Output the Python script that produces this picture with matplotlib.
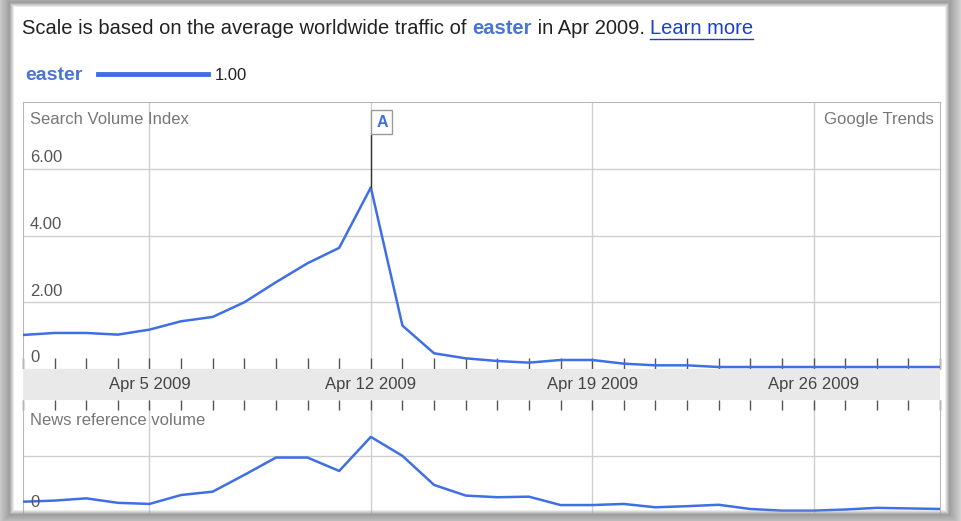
import numpy as np
import matplotlib.pyplot as plt

plt.rcParams['font.family'] = ['Liberation Sans', 'DejaVu Sans']

# days of April 2009
days = list(range(1, 31))
search_volume = [1.02, 1.08, 1.08, 1.03, 1.18, 1.43, 1.56, 2.00, 2.60, 3.17,
                 3.63, 5.44, 1.30, 0.47, 0.32, 0.24, 0.19, 0.27, 0.27, 0.16,
                 0.11, 0.11, 0.06, 0.06, 0.06, 0.06, 0.06, 0.06, 0.06, 0.06]
news_volume = [0.18, 0.20, 0.24, 0.16, 0.14, 0.30, 0.36, 0.66, 0.97, 0.97,
               0.73, 1.34, 1.00, 0.48, 0.29, 0.26, 0.27, 0.12, 0.12, 0.14,
               0.08, 0.10, 0.125, 0.05, 0.02, 0.02, 0.04, 0.07, 0.06, 0.05]
week_days = [5, 12, 19, 26]
week_labels = ["Apr 5 2009", "Apr 12 2009", "Apr 19 2009", "Apr 26 2009"]
y_ticks = [2, 4, 6]
y_labels = ["2.00", "4.00", "6.00"]
peak_day = 12

W, H = 962, 521
blue = '#3f6fe6'
grid = '#cfcfcf'
border = '#b8b8b8'

fig = plt.figure(figsize=(W / 100, H / 100), dpi=100)
fig.patch.set_facecolor('white')
renderer = fig.canvas.get_renderer()


def fx(px):
    return px / W


def fy(py):
    return 1 - py / H


left, right = 23, 940
lab_x = (30 - left) / (right - left)

# main search volume panel
ax = fig.add_axes([fx(left), fy(369), fx(right - left), fy(102) - fy(369)])
ax.plot(days, search_volume, color=blue, lw=1.8, zorder=3)
ax.set_xlim(1, 30)
ax.set_ylim(0, 8)
for d in week_days:
    ax.axvline(d, color=grid, lw=1, zorder=1)
for t, lab in zip(y_ticks, y_labels):
    ax.axhline(t, color=grid, lw=1, zorder=1)
    ax.text(lab_x, t + 0.33, lab, transform=ax.get_yaxis_transform(),
            fontsize=12, color='#555555', va='center', ha='left')
ax.text(lab_x, 0.33, "0", transform=ax.get_yaxis_transform(),
        fontsize=12, color='#555555', va='center', ha='left')
ax.set_xticks(days)
ax.set_xticklabels([])
ax.set_yticks([])
ax.tick_params(axis='x', direction='in', length=8, width=1, color='#555555')
for s in ax.spines.values():
    s.set_color(border)
ax.text(lab_x, 0.935, "Search Volume Index", transform=ax.transAxes,
        fontsize=12, color='#777777', va='center')
ax.text(0.9935, 0.935, "Google Trends", transform=ax.transAxes,
        fontsize=12, color='#777777', va='center', ha='right')

# flag "A" at the peak
ax.plot([peak_day, peak_day], [search_volume[peak_day - 1], 7.0], color='#333333', lw=1, zorder=4)
ax.text(peak_day + 0.35, 7.4, "A", fontsize=11.5, color=blue, fontweight='bold',
        ha='center', va='center', zorder=5,
        bbox=dict(boxstyle='square,pad=0.3', fc='white', ec='#999999', lw=1))

# date band
band = fig.add_axes([fx(left), fy(400), fx(right - left), fy(369) - fy(400)])
band.set_facecolor('#e9e9e9')
band.set_xlim(1, 30)
band.set_ylim(0, 1)
for d, lab in zip(week_days, week_labels):
    band.text(d, 0.5, lab, ha='center', va='center', fontsize=12, color='#444444')
band.set_xticks([])
band.set_yticks([])
for s in band.spines.values():
    s.set_visible(False)

# news reference panel
ax2 = fig.add_axes([fx(left), fy(514), fx(right - left), fy(400) - fy(514)])
ax2.plot(days, news_volume, color=blue, lw=1.8, zorder=3)
ax2.set_xlim(1, 30)
ax2.set_ylim(-0.04, 2.0)
for d in week_days:
    ax2.axvline(d, color=grid, lw=1, zorder=1)
ax2.axhline(1, color=grid, lw=1, zorder=1)
ax2.set_xticks(days)
ax2.set_xticklabels([])
ax2.set_yticks([])
ax2.xaxis.set_ticks_position('top')
ax2.tick_params(axis='x', direction='in', length=7, width=1, color='#555555')
for s in ax2.spines.values():
    s.set_color(border)
ax2.spines['top'].set_visible(False)
ax2.text(lab_x, 0.82, "News reference volume", transform=ax2.transAxes,
         fontsize=12, color='#777777', va='center')
ax2.text(lab_x, 0.1, "0", transform=ax2.transAxes, fontsize=12, color='#555555', va='center')

# header line, pieces chained one after another
pieces = [("Scale is based on the average worldwide traffic of ", '#222222', 'normal'),
          ("easter", '#4a74d6', 'bold'),
          (" in Apr 2009. ", '#222222', 'normal'),
          ("Learn more", '#1a3fcc', 'normal')]
x0 = 22
for txt, col, wt in pieces:
    t = fig.text(fx(x0), fy(28), txt, fontsize=14.5, color=col, fontweight=wt, va='center')
    bb = t.get_window_extent(renderer)
    if txt == "Learn more":
        fig.add_artist(plt.Line2D([fx(x0), fx(x0 + bb.width)], [fy(39), fy(39)],
                                  color='#1a3fcc', lw=1))
    x0 += bb.width

# legend
fig.text(fx(25), fy(75), "easter", fontsize=14, color='#4a74d6', fontweight='bold', va='center')
fig.add_artist(plt.Line2D([fx(98), fx(208)], [fy(74), fy(74)], color=blue, lw=3.5))
fig.text(fx(215), fy(75), "1.00", fontsize=12, color='#222222', va='center')

# picture frame shadow
yy, xx = np.mgrid[0:H, 0:W]
d = np.maximum.reduce([14 - xx, xx - 944, 7 - yy, yy - 509, np.zeros_like(xx)]).astype(float)
alpha = np.clip(d / 5.0, 0, 1)
shade = 0.62 + 0.22 * np.clip((d - 5) / 12.0, 0, 1)
img = np.zeros((H, W, 4))
img[..., 0] = shade
img[..., 1] = shade
img[..., 2] = shade
img[..., 3] = alpha
fig.figimage(img, xo=0, yo=0, origin='upper', zorder=20)

fig.savefig("out.png", dpi=100)
